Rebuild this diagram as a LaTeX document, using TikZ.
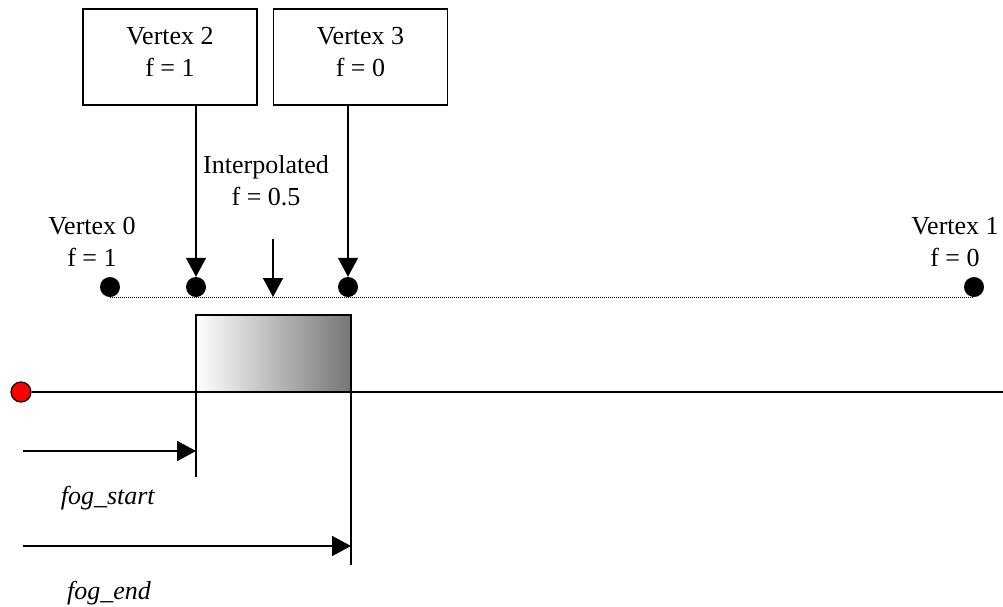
\documentclass[tikz,border=0pt]{standalone}
\usepackage{fontspec}
\setmainfont{Liberation Serif}
\usetikzlibrary{arrows.meta}
\newcommand{\twolines}[2]{\begin{tabular}[b]{@{}c@{}}#1\\#2\end{tabular}}
\begin{document}
\begin{tikzpicture}[x=1pt,y=-1pt,
  every node/.style={font=\fontsize{26}{32}\selectfont},
  ln/.style={line width=1.5pt},
  arr/.style={line width=1.5pt,-{Triangle[length=19pt,width=20pt]}},
  vbox/.style={draw,line width=1.5pt,minimum width=174pt,inner sep=0pt,
     text height=67pt,text depth=29pt,anchor=base},
  dot/.style={circle,fill=black,inner sep=0pt,minimum size=20pt},
  lbl/.style={anchor=base,inner sep=0pt}]
\useasboundingbox (0,0) rectangle (1003,606);
% vertex boxes
\node[vbox] (v2) at (170,76) {\twolines{Vertex 2}{f = 1}};
\node[vbox] (v3) at (360.5,76) {\twolines{Vertex 3}{f = 0}};
% dots
\node[dot] (d0) at (110,287) {};
\node[dot] (d2) at (196,287) {};
\node[dot] (d3) at (348,287) {};
\node[dot] (d1) at (974,287) {};
\draw[line width=1.2pt,dash pattern=on 1pt off 1pt] (d0.south) -- (d1.south);
% labels
\node[lbl] (l0) at (92,266) {\twolines{Vertex 0}{f = 1}};
\node[lbl] (l1) at (955,266) {\twolines{Vertex 1}{f = 0}};
\node[lbl] (li) at (266,205) {\twolines{Interpolated}{f = 0.5}};
% arrows from boxes
\draw[arr] (v2.south -| d2) -- (d2.north);
\draw[arr] (v3.south -| d3) -- (d3.north);
\coordinate (is) at (273,239);
\coordinate (ie) at (273,297);
\draw[arr] (is) -- (ie);
% fog box
\node[draw,line width=1.5pt,anchor=north west,minimum width=155pt,minimum height=77pt,
  inner sep=0pt,outer sep=0pt,left color=white,right color=black!54] (fog) at (196,315) {};
% main line
\node[circle,fill=red,draw=black,line width=1.2pt,inner sep=0pt,minimum size=20pt] (eye) at (21,392) {};
\coordinate (me) at (1003,392);
\draw[ln] (eye.east) -- (me);
% vertical markers
\coordinate (fs) at (196,477);
\coordinate (fe) at (351,565);
\draw[ln] (fog.north west) -- (fs);
\draw[ln] (fog.north east) -- (fe);
% distance arrows
\coordinate (a1) at (23,451);
\coordinate (a2) at (23,546);
\draw[arr] (a1) -- (a1 -| fs);
\draw[arr] (a2) -- (a2 -| fe);
\node[lbl] (tfs) at (108,504) {\textit{fog\_start}};
\node[lbl] (tfe) at (109,599) {\textit{fog\_end}};
\end{tikzpicture}
\end{document}
